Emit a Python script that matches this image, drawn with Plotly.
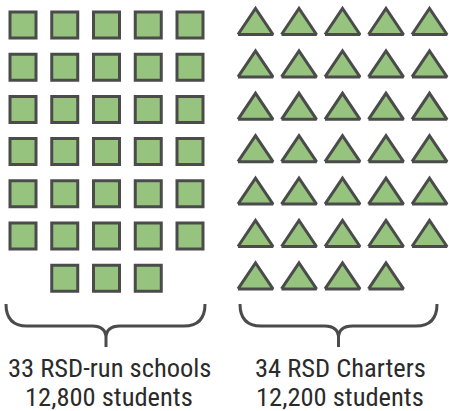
import plotly.graph_objects as go

# ---- data ----
group_names = ["33 RSD-run schools", "34 RSD Charters"]
group_students = ["12,800 students", "12,200 students"]
school_counts = [33, 34]
n_cols = 5

FILL = "#96c47f"
EDGE = "#4b4b4b"
TEXT = "#2b2b2b"
FONT = "Liberation Sans Narrow, Arial Narrow, Roboto Condensed, Roboto, sans-serif"

fig = go.Figure()

# ---- left group: squares, last row centered ----
sq_x0, sq_dx, sq_y0, sq_dy = 23, 41.75, 25, 42.2
sx, sy = [], []
n = school_counts[0]
full_rows = n // n_cols
rem = n % n_cols
for i in range(n):
    r, c = divmod(i, n_cols)
    if r == full_rows:
        c = c + (n_cols - rem) / 2
    sx.append(sq_x0 + sq_dx * c)
    sy.append(sq_y0 + sq_dy * r)
fig.add_trace(go.Scatter(x=sx, y=sy, mode="markers",
                         marker=dict(symbol="square", size=26, color=FILL,
                                     line=dict(color=EDGE, width=3)),
                         hoverinfo="skip", showlegend=False))

# ---- right group: triangles, last row left-aligned ----
tr_x0, tr_dx, tr_y0, tr_dy = 255.5, 43.5, 21.5, 42.4
tw, th = 35, 26
tx, ty = [], []
n = school_counts[1]
for i in range(n):
    r, c = divmod(i, n_cols)
    cx = tr_x0 + tr_dx * c
    cy = tr_y0 + tr_dy * r
    tx += [cx - tw / 2, cx + tw / 2, cx, cx - tw / 2, None]
    ty += [cy + th / 2, cy + th / 2, cy - th / 2, cy + th / 2, None]
fig.add_trace(go.Scatter(x=tx, y=ty, mode="lines", fill="toself", fillcolor=FILL,
                         line=dict(color=EDGE, width=3),
                         hoverinfo="skip", showlegend=False))

# ---- braces ----
def brace(x1, x2, xm, ytop=304, yh=326, yjoin=338, ytip=347, rc=21, rt=14):
    return (f"M {x1},{ytop} Q {x1},{yh} {x1+rc},{yh} L {xm-rt},{yh} "
            f"Q {xm},{yh} {xm},{yjoin} L {xm},{ytip} M {xm},{yjoin} "
            f"Q {xm},{yh} {xm+rt},{yh} "
            f"L {x2-rc},{yh} Q {x2},{yh} {x2},{ytop}")

for x1, x2, xm in [(6, 205, 106), (240, 437, 338.5)]:
    fig.add_shape(type="path", path=brace(x1, x2, xm), xref="x", yref="y",
                  line=dict(color=EDGE, width=3))

# ---- labels ----
for cx, name, stud in zip([109, 340], group_names, group_students):
    fig.add_annotation(x=cx, y=367.5, text=name, showarrow=False, xanchor="center",
                       yanchor="middle", font=dict(family=FONT, size=26.5, color=TEXT))
    fig.add_annotation(x=cx, y=396, text=stud, showarrow=False, xanchor="center",
                       yanchor="middle", font=dict(family=FONT, size=26.5, color=TEXT))

fig.update_xaxes(range=[0, 449], visible=False, fixedrange=True)
fig.update_yaxes(range=[411, 0], visible=False, fixedrange=True)
fig.update_layout(width=449, height=411, margin=dict(l=0, r=0, t=0, b=0),
                  paper_bgcolor="white", plot_bgcolor="white", autosize=False)

fig.write_html("out.html", config={"displayModeBar": False},
               post_script="document.body.style.margin='0';document.body.style.padding='0';document.body.style.overflow='hidden';")
